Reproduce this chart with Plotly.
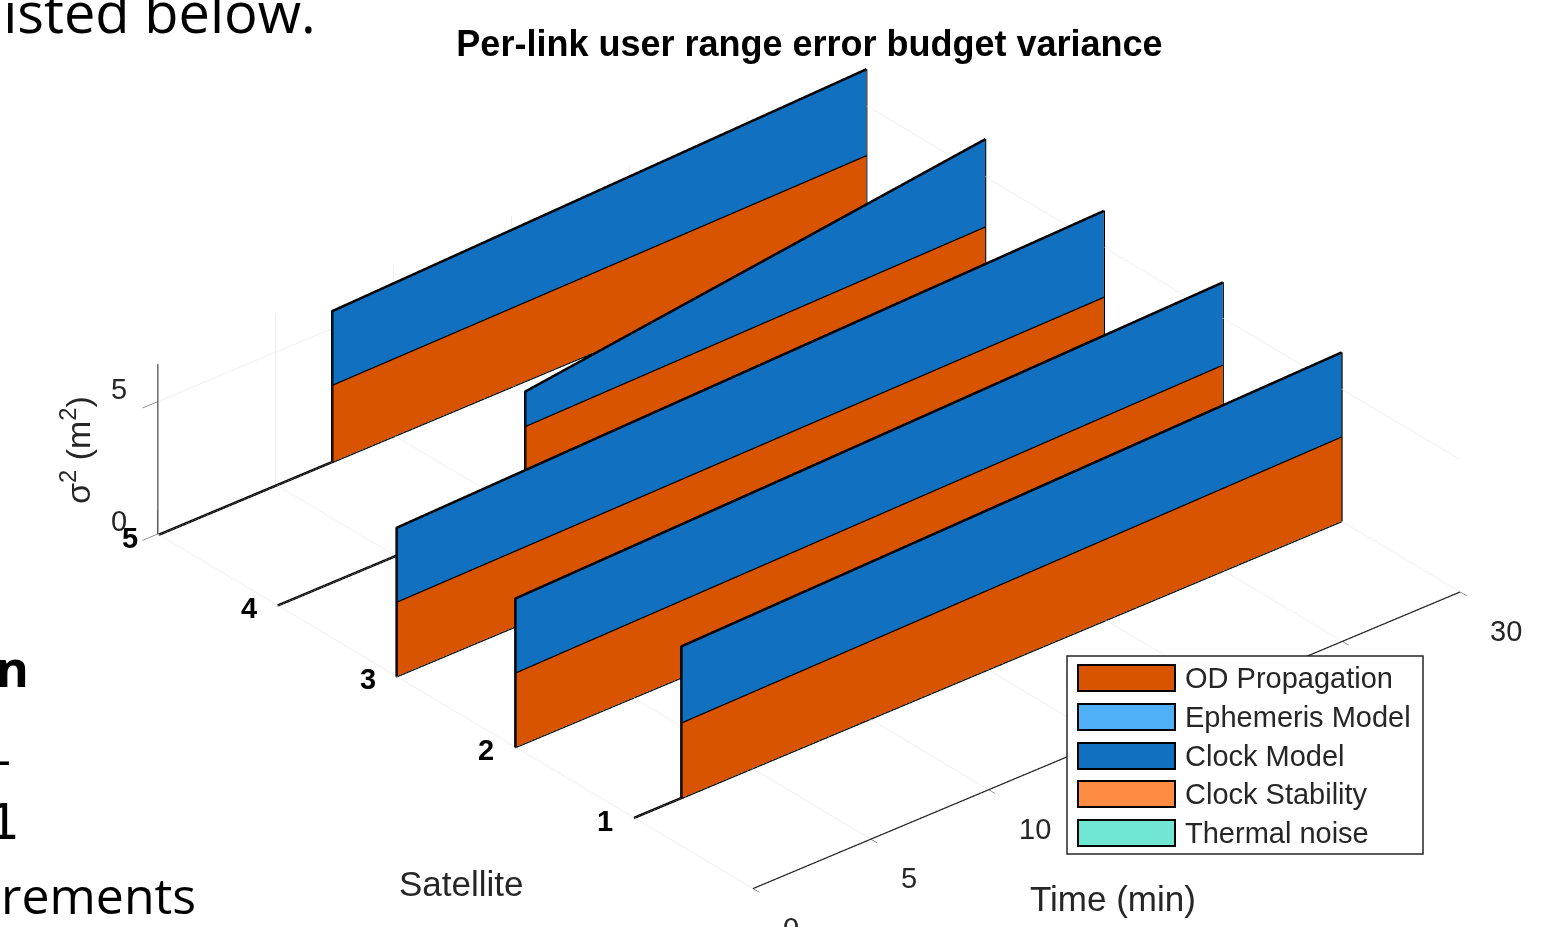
import plotly.graph_objects as go

# ---------------- data ----------------
satellites = [1, 2, 3, 4, 5]
rise_time_min = [2.0, 0.0, 0.0, 10.5, 7.35]   # time each link becomes active
end_time_min = 30.0

component_names = ["OD Propagation", "Ephemeris Model", "Clock Model",
                   "Clock Stability", "Thermal noise"]
component_colors = ["#D95400", "#4FB0F8", "#1170BF", "#FF8C40", "#70E6D4"]

# variance (m^2) of each component at link start and at end of window
od_start = [2.86, 2.82, 2.82, 2.86, 2.92]
od_end = [3.20, 3.24, 3.13, 3.11, 3.13]
eph_start = [0.0, 0.0, 0.0, 0.0, 0.0]
eph_end = [0.0, 0.0, 0.0, 0.0, 0.0]
clk_start = [2.87, 2.79, 2.79, 1.30, 2.78]
clk_end = [3.17, 3.10, 3.24, 3.29, 3.24]
stab_start = [0.0, 0.0, 0.0, 0.0, 0.0]
stab_end = [0.0, 0.0, 0.0, 0.0, 0.0]
thermal_start = [0.0, 0.0, 0.0, 0.0, 0.0]
thermal_end = [0.0, 0.0, 0.0, 0.0, 0.0]

time_ticks = [0, 5, 10, 15, 20, 25, 30]
variance_ticks = [0, 5]

starts = [od_start, eph_start, clk_start, stab_start, thermal_start]
ends = [od_end, eph_end, clk_end, stab_end, thermal_end]

W, H = 1550, 927
TXT = "#262626"
FONT = "Liberation Sans"


def px(x):
    return x / W


def py(y):
    return 1 - y / H


fig = go.Figure()

# stacked ribbons: one vertical strip per satellite and component
lower = {s: [0.0, 0.0, 0.0, 0.0] for s in range(len(satellites))}
ox, oy, oz = [], [], []
for c, name in enumerate(component_names):
    xs, ys, zs, ii, jj, kk = [], [], [], [], [], []
    for s, sat in enumerate(satellites):
        tt = [0.0, rise_time_min[s], rise_time_min[s], end_time_min]
        vals = [0.0, 0.0, starts[c][s], ends[c][s]]
        lo = lower[s]
        up = [lo[m] + vals[m] for m in range(4)]
        b = len(xs)
        for m in range(4):
            xs.append(tt[m]); ys.append(sat); zs.append(lo[m])
        for m in range(4):
            xs.append(tt[m]); ys.append(sat); zs.append(up[m])
        for m in range(3):
            ii += [b + m, b + m]
            jj += [b + m + 1, b + 4 + m + 1]
            kk += [b + 4 + m + 1, b + 4 + m]
        # polygon outline
        ox += tt + tt[::-1] + [tt[0], None]
        oy += [sat] * 9 + [None]
        oz += up + lo[::-1] + [up[0], None]
        lower[s] = up
    fig.add_trace(go.Mesh3d(
        x=xs, y=ys, z=zs, i=ii, j=jj, k=kk, color=component_colors[c],
        flatshading=True, opacity=1.0, name=name, showlegend=False,
        lighting=dict(ambient=1.0, diffuse=0.0, specular=0.0, roughness=1.0, fresnel=0.0),
        hoverinfo="skip"))

zmax = max(max(v) for v in lower.values())
y_top = 5.01
z_top = zmax * 1.003

fig.add_trace(go.Scatter3d(x=ox, y=oy, z=oz, mode="lines",
                           line=dict(color="black", width=5),
                           showlegend=False, hoverinfo="skip"))

# heavier rulers for the time and variance axes
fig.add_trace(go.Scatter3d(x=[0, end_time_min, None, 0, 0], y=[0, 0, None, y_top, y_top],
                           z=[0, 0, None, 0, z_top], mode="lines",
                           line=dict(color=TXT, width=2.5),
                           showlegend=False, hoverinfo="skip"))

grid = "#e0e0e0"
axis_common = dict(showbackground=False, showgrid=True, gridcolor=grid, gridwidth=1,
                   zeroline=False, showspikes=False, title=dict(text=""),
                   showticklabels=False, tickcolor=TXT)

# eye direction: elevation 30 deg, azimuth 230 deg
eye = dict(x=-0.5567 * 2.5, y=-0.6634 * 2.5, z=0.5 * 2.5)
s_box = 2.07

# time labels sitting under the legend box are not shown
covered_by_legend = [15, 20, 25]

# tick labels placed at their 3D tick positions
tick_notes = []
for t in time_ticks:
    tick_notes.append(dict(x=t, y=0, z=0, text=str(t), showarrow=False,
                           visible=t not in covered_by_legend,
                           xanchor="left", yanchor="middle", xshift=28, yshift=-39,
                           font=dict(family=FONT, size=29, color=TXT)))
for sat in satellites:
    tick_notes.append(dict(x=0, y=sat, z=0, text=str(sat), showarrow=False,
                           xanchor="center", yanchor="middle", xshift=-29, yshift=-3,
                           font=dict(family=FONT, size=29, color="black", weight="bold")))
for v in variance_ticks:
    tick_notes.append(dict(x=0, y=y_top, z=v, text=str(v), showarrow=False,
                           xanchor="center", yanchor="middle", xshift=-39, yshift=13,
                           font=dict(family=FONT, size=29, color=TXT)))

fig.update_layout(
    width=W, height=H, autosize=False,
    margin=dict(l=0, r=0, t=0, b=0),
    paper_bgcolor="white", plot_bgcolor="white",
    showlegend=False,
    title=dict(text="<b>Per-link user range error budget variance</b>",
               x=px(809.5), y=py(43), xanchor="center", yanchor="middle",
               font=dict(family=FONT, size=36, color="black")),
    scene=dict(
        domain=dict(x=[px(809) - 0.478, px(809) + 0.478], y=[py(478) - 0.481, py(478) + 0.481]),
        aspectmode="manual", aspectratio=dict(x=s_box, y=s_box * 1.003, z=s_box * 0.2125),
        camera=dict(eye=eye, up=dict(x=0, y=0, z=1), center=dict(x=0, y=0, z=0),
                    projection=dict(type="orthographic")),
        xaxis=dict(range=[0, end_time_min], tickvals=time_ticks, ticks="outside",
                   ticklen=20, showline=True, linecolor=TXT, linewidth=2,
                   **axis_common),
        yaxis=dict(range=[0, y_top], tickvals=satellites, ticks="", showline=False,
                   **axis_common),
        zaxis=dict(range=[0, z_top], tickvals=variance_ticks, ticks="outside",
                   ticklen=16, showline=True, linecolor=TXT, linewidth=2,
                   **axis_common),
        annotations=tick_notes,
    ),
)

# axis titles
fig.add_annotation(text="Time (min)", x=px(1113), y=py(898), xref="paper", yref="paper",
                   xanchor="center", yanchor="middle", showarrow=False,
                   font=dict(family=FONT, size=35, color=TXT))
fig.add_annotation(text="Satellite", x=px(461), y=py(883), xref="paper", yref="paper",
                   xanchor="center", yanchor="middle", showarrow=False,
                   font=dict(family=FONT, size=35, color=TXT))
fig.add_annotation(text="σ<sup>2</sup> (m<sup>2</sup>)", x=px(75), y=py(450), xref="paper",
                   yref="paper", xanchor="center", yanchor="middle", showarrow=False,
                   textangle=-90, font=dict(family=FONT, size=34, color=TXT))

# legend box
lx0, ly0, lx1, ly1 = 1067, 656, 1423, 854
fig.add_shape(type="rect", xref="paper", yref="paper", x0=px(lx0), x1=px(lx1),
              y0=py(ly1), y1=py(ly0), fillcolor="white", line=dict(color="#262626", width=1.5),
              layer="above")
row_y = [678, 717, 756, 794, 833]
for c, name in enumerate(component_names):
    yc = row_y[c]
    fig.add_shape(type="rect", xref="paper", yref="paper", x0=px(1078), x1=px(1175),
                  y0=py(yc + 13), y1=py(yc - 13), fillcolor=component_colors[c],
                  line=dict(color="black", width=2), layer="above")
    fig.add_annotation(text=name, x=px(1183), y=py(yc), xref="paper", yref="paper",
                       xanchor="left", yanchor="middle", showarrow=False,
                       font=dict(family=FONT, size=29, color=TXT))

# surrounding slide text
slide_font = "Open Sans"
fig.add_annotation(text="listed below.", x=px(318), y=py(11), xref="paper", yref="paper",
                   xanchor="right", yanchor="middle", showarrow=False,
                   font=dict(family=slide_font, size=56, color="black"))
fig.add_annotation(text="<b>n</b>", x=px(31), y=py(668), xref="paper", yref="paper",
                   xanchor="right", yanchor="middle", showarrow=False,
                   font=dict(family=slide_font, size=50, color="black"))
fig.add_annotation(text="–", x=px(13), y=py(758), xref="paper", yref="paper",
                   xanchor="right", yanchor="middle", showarrow=False,
                   font=dict(family=slide_font, size=50, color="black"))
fig.add_annotation(text="1", x=px(22), y=py(822), xref="paper", yref="paper",
                   xanchor="right", yanchor="middle", showarrow=False,
                   font=dict(family="DejaVu Sans", size=50, color="black"))
fig.add_annotation(text="rements", x=px(198), y=py(895), xref="paper", yref="paper",
                   xanchor="right", yanchor="middle", showarrow=False,
                   font=dict(family=slide_font, size=50, color="black"))

fig.write_html("out.html", config={"displayModeBar": False})
